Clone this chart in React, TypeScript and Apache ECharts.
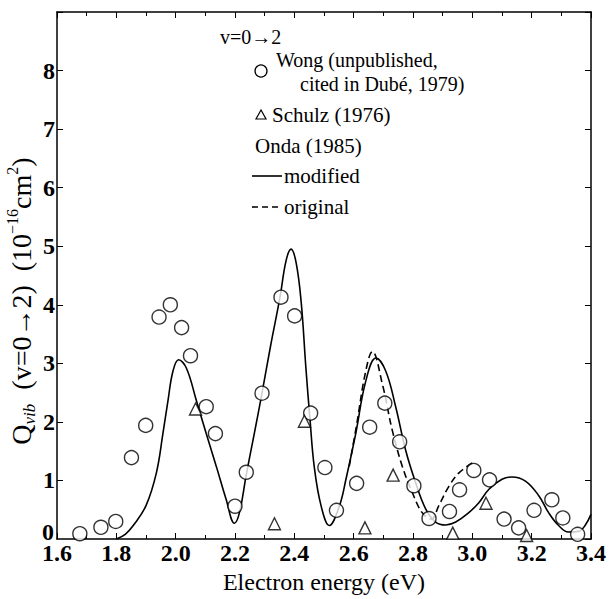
import React, { useEffect, useRef } from "react";
import * as echarts from "echarts";

// Wong (unpublished, cited in Dubé, 1979): [energy eV, Q]
const wongPoints: [number, number][] = [
  [1.677, 0.09], [1.748, 0.2], [1.798, 0.3], [1.851, 1.39], [1.899, 1.94],
  [1.944, 3.79], [1.982, 4.0], [2.02, 3.61], [2.05, 3.13], [2.103, 2.26],
  [2.134, 1.8], [2.2, 0.56], [2.238, 1.14], [2.291, 2.49], [2.355, 4.13],
  [2.401, 3.81], [2.455, 2.15], [2.503, 1.22], [2.542, 0.49], [2.61, 0.95],
  [2.654, 1.91], [2.705, 2.32], [2.755, 1.66], [2.803, 0.91], [2.854, 0.35],
  [2.923, 0.47], [2.957, 0.84], [3.005, 1.17], [3.058, 1.01], [3.107, 0.34],
  [3.156, 0.19], [3.208, 0.49], [3.268, 0.67], [3.305, 0.36], [3.355, 0.08],
  [3.405, 0.13],
];

// Schulz (1976)
const schulzPoints: [number, number][] = [
  [2.067, 2.22], [2.333, 0.26], [2.434, 2.01], [2.638, 0.19], [2.733, 1.09],
  [2.934, 0.1], [3.046, 0.61], [3.183, 0.06],
];

// Onda (1985), modified
const modifiedCurve: [number, number][] = [
  [1.8, 0.0], [1.83, 0.08], [1.857, 0.23], [1.9, 0.57], [1.935, 1.13],
  [1.957, 1.8], [1.974, 2.36], [1.991, 2.87], [2.01, 3.06], [2.036, 2.92],
  [2.07, 2.36], [2.103, 1.8], [2.137, 1.24], [2.17, 0.68], [2.198, 0.27],
  [2.215, 0.45], [2.238, 1.1], [2.265, 1.8], [2.291, 2.49], [2.32, 3.3],
  [2.352, 4.14], [2.372, 4.75], [2.389, 4.95], [2.406, 4.72], [2.423, 4.05],
  [2.439, 2.92], [2.453, 2.03], [2.467, 1.24], [2.49, 0.57], [2.518, 0.23],
  [2.551, 0.55], [2.574, 1.02], [2.607, 1.8], [2.641, 2.7], [2.675, 3.09],
  [2.708, 2.87], [2.742, 2.25], [2.775, 1.52], [2.809, 0.96], [2.843, 0.51],
  [2.876, 0.29], [2.91, 0.24], [2.944, 0.29], [2.988, 0.45], [3.022, 0.62],
  [3.056, 0.85], [3.1, 1.02], [3.134, 1.06], [3.179, 0.99], [3.224, 0.74],
  [3.257, 0.45], [3.291, 0.23], [3.324, 0.12], [3.358, 0.13], [3.38, 0.23],
  [3.4, 0.42],
];

// Onda (1985), original
const originalCurve: [number, number][] = [
  [2.585, 1.24], [2.61, 1.95], [2.64, 2.85], [2.663, 3.2], [2.697, 2.64],
  [2.73, 1.86], [2.764, 1.24], [2.798, 0.79], [2.831, 0.45], [2.862, 0.34],
  [2.887, 0.57], [2.921, 0.9], [2.955, 1.13], [3.0, 1.3],
];

const SERIF = "Liberation Serif, serif";

const axisLineStyle = { color: "#000", width: 1.5 };

export default function App() {
  const ref = useRef<HTMLDivElement>(null);

  useEffect(() => {
    if (!ref.current) return;
    const chart = echarts.init(ref.current, undefined, { renderer: "svg" });

    const xCommon = {
      type: "value" as const,
      min: 1.6,
      max: 3.4,
      interval: 0.2,
      axisLine: { show: true, onZero: false, lineStyle: axisLineStyle },
      axisTick: { show: true, inside: true, length: 6, lineStyle: { color: "#000", width: 1 } },
      minorTick: { show: true, splitNumber: 2, length: 4, lineStyle: { color: "#000", width: 1 } },
      splitLine: { show: false },
      minorSplitLine: { show: false },
    };
    const yCommon = {
      type: "value" as const,
      min: 0,
      max: 9,
      interval: 1,
      axisLine: { show: true, onZero: false, lineStyle: axisLineStyle },
      axisTick: { show: true, inside: true, length: 6, lineStyle: { color: "#000", width: 1 } },
      splitLine: { show: false },
    };

    const tickFont = { fontFamily: SERIF, fontSize: 24, fontWeight: "bold" as const, color: "#000" };

    chart.setOption({
      animation: false,
      backgroundColor: "#fff",
      grid: { left: 57, right: 16, top: 12, bottom: 52 },
      xAxis: [
        {
          ...xCommon,
          position: "bottom",
          axisLabel: { ...tickFont, formatter: (v: number) => v.toFixed(1), margin: 2 },
          name: "Electron energy (eV)",
          nameLocation: "middle",
          nameGap: 31,
          nameTextStyle: { fontFamily: SERIF, fontSize: 24, color: "#000" },
        },
        { ...xCommon, position: "top", axisLabel: { show: false } },
      ],
      yAxis: [
        {
          ...yCommon,
          position: "left",
          axisLabel: {
            ...tickFont,
            margin: 2,
            showMinLabel: false,
            formatter: (v: number) => (v === 9 ? "" : String(v)),
          },
        },
        { ...yCommon, position: "right", axisLabel: { show: false } },
      ],
      series: [
        {
          name: "modified",
          type: "line",
          data: modifiedCurve,
          smooth: 0.4,
          showSymbol: false,
          lineStyle: { color: "#000", width: 1.6 },
          z: 2,
        },
        {
          name: "original",
          type: "line",
          data: originalCurve,
          smooth: 0.4,
          showSymbol: false,
          lineStyle: { color: "#000", width: 1.6, type: [7, 4] },
          z: 2,
        },
        {
          name: "Wong",
          type: "scatter",
          data: wongPoints,
          symbol: "circle",
          symbolSize: 14,
          itemStyle: { color: "#fff", borderColor: "#000", borderWidth: 1.4 },
          z: 3,
        },
        {
          name: "Schulz",
          type: "scatter",
          data: schulzPoints,
          symbol: "triangle",
          symbolSize: 12,
          itemStyle: { color: "#fff", borderColor: "#000", borderWidth: 1.4 },
          z: 3,
        },
      ],
      graphic: [
        // zero label of the y axis sits a little above the corner
        {
          type: "text",
          x: 54,
          y: 532,
          style: { text: "0", ...tickFont, fill: "#000", align: "right", verticalAlign: "middle" },
        },
        {
          type: "text",
          x: 220,
          y: 37,
          style: { text: "v=0→2", fontFamily: SERIF, fontSize: 20, fill: "#000", verticalAlign: "middle" },
        },
        {
          type: "circle",
          shape: { cx: 261, cy: 71, r: 6 },
          style: { fill: "#fff", stroke: "#000", lineWidth: 1.3 },
        },
        {
          type: "text",
          x: 276,
          y: 60,
          style: { text: "Wong (unpublished,", fontFamily: SERIF, fontSize: 20, fill: "#000", verticalAlign: "middle" },
        },
        {
          type: "text",
          x: 300,
          y: 84,
          style: { text: "cited in Dubé, 1979)", fontFamily: SERIF, fontSize: 20, fill: "#000", verticalAlign: "middle" },
        },
        {
          type: "polygon",
          shape: { points: [[261, 110], [256, 119], [266, 119]] },
          style: { fill: "#fff", stroke: "#000", lineWidth: 1.2 },
        },
        {
          type: "text",
          x: 272,
          y: 115,
          style: { text: "Schulz (1976)", fontFamily: SERIF, fontSize: 21, fill: "#000", verticalAlign: "middle" },
        },
        {
          type: "text",
          x: 255,
          y: 146,
          style: { text: "Onda (1985)", fontFamily: SERIF, fontSize: 21, fill: "#000", verticalAlign: "middle" },
        },
        {
          type: "line",
          shape: { x1: 252, y1: 176, x2: 282, y2: 176 },
          style: { stroke: "#000", lineWidth: 1.6 },
        },
        {
          type: "text",
          x: 284,
          y: 176,
          style: { text: "modified", fontFamily: SERIF, fontSize: 21, fill: "#000", verticalAlign: "middle" },
        },
        {
          type: "line",
          shape: { x1: 252, y1: 207, x2: 282, y2: 207 },
          style: { stroke: "#000", lineWidth: 1.6, lineDash: [6, 4] },
        },
        {
          type: "text",
          x: 284,
          y: 207,
          style: { text: "original", fontFamily: SERIF, fontSize: 21, fill: "#000", verticalAlign: "middle" },
        },
        {
          type: "text",
          x: 21,
          y: 301,
          rotation: Math.PI / 2,
          style: {
            text: "{m|Q}{sub|vib}{m|  (v=0→2)  (10}{sup|−16}{m|cm}{sup|2}{m|)}",
            align: "center",
            verticalAlign: "middle",
            fill: "#000",
            rich: {
              m: { fontFamily: SERIF, fontSize: 28, lineHeight: 34, fill: "#000" },
              sub: { fontFamily: SERIF, fontSize: 17, fontStyle: "italic", lineHeight: 16, verticalAlign: "bottom", fill: "#000" },
              sup: { fontFamily: SERIF, fontSize: 16, lineHeight: 18, verticalAlign: "top", fill: "#000" },
            },
          },
        },
      ],
    });

    return () => chart.dispose();
  }, []);

  return <div ref={ref} style={{ width: 609, height: 599, position: "absolute", left: 0, top: 0 }} />;
}
